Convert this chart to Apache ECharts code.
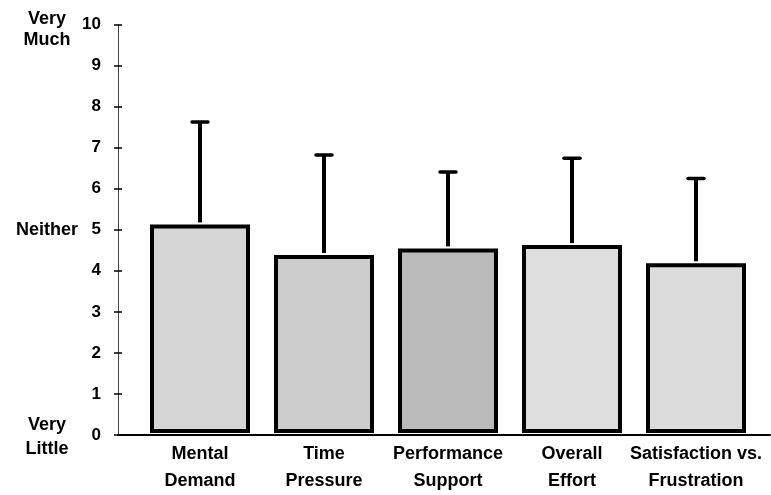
<!DOCTYPE html>
<html>
<head>
<meta charset="utf-8">
<script src="https://cdn.jsdelivr.net/npm/echarts@6/dist/echarts.min.js"></script>
<style>html,body{margin:0;padding:0;background:#fff}#c{width:771px;height:495px}</style>
</head>
<body>
<div id="c"></div>
<script>
const categories = ['Mental\nDemand', 'Time\nPressure', 'Performance\nSupport', 'Overall\nEffort', 'Satisfaction vs.\nFrustration'];
const means = [5.05, 4.31, 4.47, 4.55, 4.11];
const upperErrors = [7.53, 6.73, 6.32, 6.65, 6.16];
const barColors = ['#d6d6d6', '#cdcdcd', '#bababa', '#dedede', '#dcdcdc'];
const yTicks = [0, 1, 2, 3, 4, 5, 6, 7, 8, 9, 10];
const anchorLabels = {0: 'Very\nLittle', 5: 'Neither', 10: 'Very\nMuch'};

const FONT = '"Liberation Sans", Arial, Helvetica, sans-serif';
const chart = echarts.init(document.getElementById('c'), null, {renderer: 'canvas'});

const option = {
  animation: false,
  backgroundColor: '#fff',
  grid: [
    {left: 118, right: 1, top: 20, bottom: 60},
    {left: 138, right: 13, top: 20, bottom: 60}
  ],
  xAxis: [
    {gridIndex: 0, type: 'value', min: 0, max: 1,
     axisLine: {show: true, lineStyle: {color: '#000', width: 2}},
     axisTick: {show: false}, axisLabel: {show: false}, splitLine: {show: false}},
    {gridIndex: 1, type: 'category', data: categories,
     axisLine: {show: false}, axisTick: {show: false}, splitLine: {show: false},
     axisLabel: {color: '#000', fontFamily: FONT, fontWeight: 'bold', fontSize: 18, lineHeight: 27, margin: 8, interval: 0}}
  ],
  yAxis: [
    {gridIndex: 0, type: 'value', min: 0, max: 10, interval: 1, position: 'left',
     axisLine: {show: true, lineStyle: {color: '#444', width: 1}},
     axisTick: {show: true, length: 4, lineStyle: {color: '#000', width: 1.5}},
     axisLabel: {color: '#000', fontFamily: FONT, fontWeight: 'bold', fontSize: 17, margin: 17,
                 formatter: v => yTicks.includes(v) ? String(v) : ''},
     splitLine: {show: false}},
    {gridIndex: 0, type: 'value', min: 0, max: 10, interval: 1, position: 'left',
     axisLine: {show: false},
     axisTick: {show: true, inside: true, length: 4, lineStyle: {color: '#000', width: 1.5}},
     axisLabel: {show: false}, splitLine: {show: false}},
    {gridIndex: 0, type: 'value', min: 0, max: 10, interval: 1, position: 'left',
     axisLine: {show: false}, axisTick: {show: false}, splitLine: {show: false},
     axisLabel: {color: '#000', fontFamily: FONT, fontWeight: 'bold', fontSize: 17, margin: 71, align: 'center',
       formatter: v => {
         if (v === 10) return '{t|' + anchorLabels[10].replace('\n', '}\n{t|') + '}';
         if (v === 0) return '{b|' + anchorLabels[0].replace('\n', '}\n{b|') + '}';
         if (v === 5) return '{n|' + anchorLabels[5] + '}';
         return '';
       },
       rich: {
         t: {fontFamily: FONT, fontWeight: 'bold', fontSize: 18, lineHeight: 21, color: '#000', padding: [10, 0, 0, 0]},
         b: {fontFamily: FONT, fontWeight: 'bold', fontSize: 18, lineHeight: 24, color: '#000', padding: [5, 0, 0, 0]},
         n: {fontFamily: FONT, fontWeight: 'bold', fontSize: 18, color: '#000'}
       }}},
    {gridIndex: 1, type: 'value', min: 0, max: 10, show: false}
  ],
  series: [
    {type: 'bar', xAxisIndex: 1, yAxisIndex: 3, barWidth: 100,
     data: means.map((v, i) => ({value: v, itemStyle: {color: barColors[i]}})),
     itemStyle: {borderColor: '#000', borderWidth: 4}},
    {type: 'custom', xAxisIndex: 1, yAxisIndex: 3, z: 5,
     data: means.map((v, i) => [i, v, upperErrors[i]]),
     renderItem: (params, api) => {
       const base = api.coord([api.value(0), api.value(1)]);
       const top = api.coord([api.value(0), api.value(2)]);
       return {type: 'group', children: [
         {type: 'line', shape: {x1: base[0], y1: base[1] - 2, x2: top[0], y2: top[1]},
          style: {stroke: '#000', lineWidth: 4}},
         {type: 'line', shape: {x1: top[0] - 8, y1: top[1], x2: top[0] + 8, y2: top[1]},
          style: {stroke: '#000', lineWidth: 3.5, lineCap: 'round'}}
       ]};
     }}
  ]
};
chart.setOption(option);
</script>
</body>
</html>
